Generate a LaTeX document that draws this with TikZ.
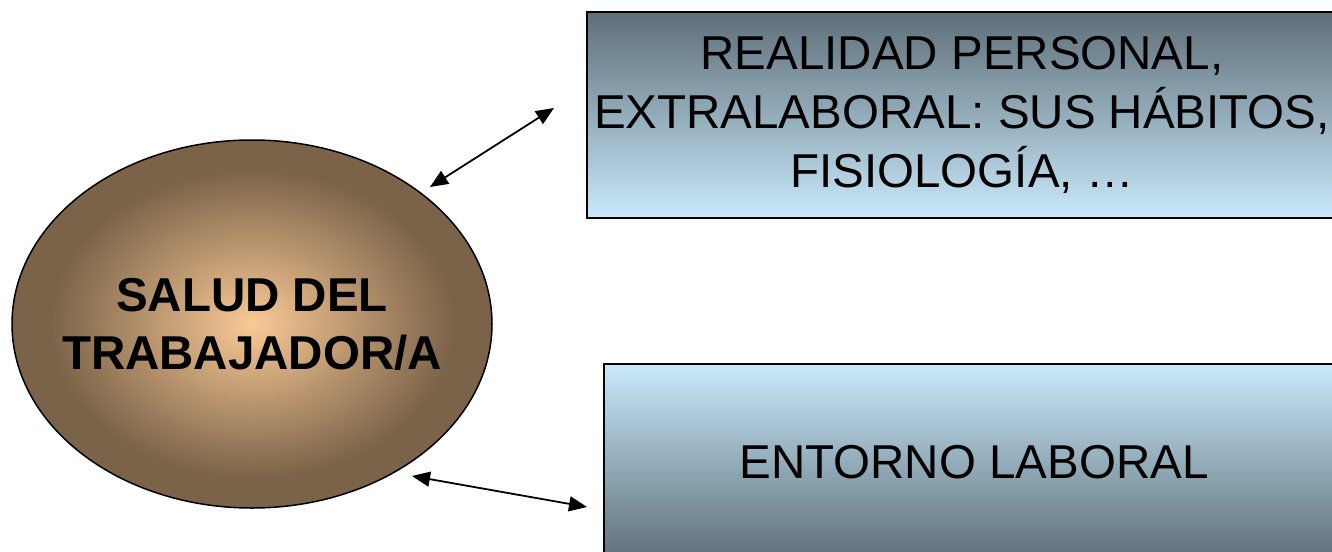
\documentclass[tikz,border=0pt]{standalone}
\usepackage{fontspec}
\setmainfont{Liberation Sans}
\usetikzlibrary{arrows.meta, shapes.geometric}

\definecolor{saludin}{HTML}{F9C996}
\definecolor{saludout}{HTML}{7B6349}
\definecolor{boxdark}{HTML}{5E6F79}
\definecolor{boxlight}{HTML}{C9E9FB}
\pgfdeclareradialshading{saludshade}{\pgfpoint{0bp}{0bp}}{%
  color(0bp)=(saludin); color(21bp)=(saludout); color(25bp)=(saludout); color(50bp)=(saludout)}

\begin{document}
\begin{tikzpicture}[x=1pt, y=-1pt,
  ovalo/.style={ellipse, draw, line width=1.5pt, minimum width=480pt, minimum height=368pt,
    inner sep=0pt, shading=saludshade},
  rotulo/.style={align=center, inner sep=0pt, font=\bfseries\fontsize{47.5}{58}\selectfont},
  caja/.style={rectangle, draw, line width=2pt, inner sep=0pt, align=center,
    font=\fontsize{47.5}{59}\selectfont},
  flecha/.style={line width=1.8pt, {Triangle[length=18pt,width=15pt]}-{Triangle[length=18pt,width=15pt]}}]
\useasboundingbox (0,0) rectangle (1332,551);
%\draw[step=50pt,gray,very thin] (0,0) grid (1332,551); %background grid
\node[ovalo] (salud) at (252,324) {};
\node[rotulo] (salud texto) at (salud.center) {SALUD DEL\\TRABAJADOR/A};
\node[caja, minimum width=750pt, minimum height=206pt, top color=boxdark, bottom color=boxlight]
  (realidad) at (962,115) {REALIDAD PERSONAL,\\EXTRALABORAL: SUS HÁBITOS,\\FISIOLOGÍA, \dots};
\node[caja, minimum width=740pt, minimum height=196pt, top color=boxlight, bottom color=boxdark]
  (entorno) at (974,462) {ENTORNO LABORAL};
\coordinate (s1) at ([xshift=178pt,yshift=137pt]salud.center);
\coordinate (r1) at ([xshift=-32pt,yshift=7pt]realidad.west);
\coordinate (s2) at ([xshift=160pt,yshift=-152pt]salud.center);
\coordinate (e1) at ([xshift=-16pt,yshift=-45pt]entorno.west);
\draw[flecha] (s1) -- (r1);
\draw[flecha] (s2) -- (e1);
\end{tikzpicture}
\end{document}
